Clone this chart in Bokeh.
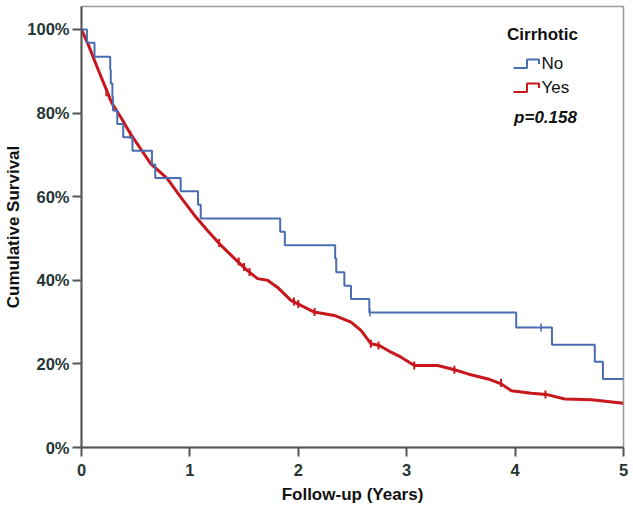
import numpy as np
from bokeh.plotting import figure
from bokeh.models import Range1d, FixedTicker, Label
from bokeh.embed import file_html
from bokeh.resources import INLINE

# ---- data ----
x_ticks = [0, 1, 2, 3, 4, 5]
x_tick_labels = ["0", "1", "2", "3", "4", "5"]
y_ticks = [0, 20, 40, 60, 80, 100]
y_tick_labels = ["0%", "20%", "40%", "60%", "80%", "100%"]

# Non-cirrhotic (No) Kaplan-Meier steps
no_time = [0, 0.05, 0.12, 0.265, 0.27, 0.285, 0.29, 0.33, 0.385, 0.47, 0.65, 0.68,
           0.915, 1.075, 1.10, 1.833, 1.876, 2.34, 2.35, 2.425, 2.486, 2.655,
           4.01, 4.34, 4.735, 4.81, 5.0]
no_surv = [100, 96.8, 93.5, 90.3, 87.1, 83.9, 80.6, 77.4, 74.2, 71.0, 67.7, 64.5,
           61.3, 58.1, 54.8, 51.6, 48.4, 45.2, 41.9, 38.7, 35.5, 32.3,
           28.7, 24.6, 20.5, 16.4, 16.4]
no_cens_time = [2.66, 4.24]
no_cens_surv = [32.3, 28.7]

# Cirrhotic (Yes) curve
yes_time = [0, 0.065, 0.157, 0.28, 0.372, 0.453, 0.638, 0.792, 0.915, 1.038, 1.162,
            1.285, 1.408, 1.531, 1.624, 1.716, 1.809, 1.932, 2.024, 2.147, 2.332,
            2.486, 2.578, 2.671, 2.748, 2.856, 2.948, 3.071, 3.287, 3.441, 3.565,
            3.75, 3.872, 3.965, 4.15, 4.288, 4.458, 4.704, 4.997]
yes_surv = [100, 96.2, 90.2, 82.4, 78.6, 75.0, 67.9, 64.3, 59.9, 55.7, 51.9,
            48.4, 45.3, 42.3, 40.4, 40.0, 38.3, 35.2, 34.0, 32.4, 31.6,
            30.0, 28.0, 24.8, 24.4, 22.8, 21.6, 19.6, 19.6, 18.6, 17.6,
            16.4, 15.2, 13.6, 13.0, 12.7, 11.6, 11.4, 10.6]
yes_cens_time = [0.23, 0.45, 1.27, 1.45, 1.50, 1.55, 1.96, 2.0, 2.15, 2.67, 2.74,
                 3.07, 3.44, 3.87, 4.28]
yes_cens_surv = [85.0, 74.8, 48.9, 44.5, 43.2, 42.0, 34.9, 34.3, 32.4, 24.8, 24.4,
                 19.6, 18.6, 15.5, 12.7]

legend_title = "Cirrhotic"
group_names = ["No", "Yes"]
p_value_text = "p=0.158"

BLUE = "#4a6cb3"
RED = "#c8161d"
TXT = "#263535"
FONT = "Liberation Sans"

p = figure(width=632, height=510, x_range=Range1d(0, 5), y_range=Range1d(0, 105.5),
           output_backend="svg", toolbar_location=None,
           min_border_left=81, min_border_right=9, min_border_top=6, min_border_bottom=63)
p.background_fill_color = "white"
p.border_fill_color = "white"
p.outline_line_color = "#9a9a9a"
p.outline_line_width = 1.5
p.xgrid.visible = False
p.ygrid.visible = False

for ax in (p.xaxis[0], p.yaxis[0]):
    ax.axis_line_color = "#555555"
    ax.axis_line_width = 2
    ax.major_tick_line_color = "#555555"
    ax.major_tick_line_width = 2
    ax.major_tick_in = 0
    ax.minor_tick_line_color = None
    ax.major_label_text_font = FONT
    ax.major_label_text_font_size = "16.5px"
    ax.major_label_text_font_style = "bold"
    ax.major_label_text_color = TXT
    ax.axis_label_text_font = FONT
    ax.axis_label_text_font_size = "17px"
    ax.axis_label_text_font_style = "bold"
    ax.axis_label_text_color = "#111111"

p.xaxis.ticker = FixedTicker(ticks=x_ticks)
p.xaxis.major_label_overrides = {t: l for t, l in zip(x_ticks, x_tick_labels)}
p.xaxis.major_tick_out = 9
p.xaxis.major_label_standoff = 7
p.xaxis.axis_label = "Follow-up (Years)"
p.xaxis.axis_label_standoff = 6

p.yaxis.ticker = FixedTicker(ticks=y_ticks)
p.yaxis.major_label_overrides = {t: l for t, l in zip(y_ticks, y_tick_labels)}
p.yaxis.major_tick_out = 9
p.yaxis.major_label_standoff = 3
p.yaxis.axis_label = "Cumulative Survival"
p.yaxis.axis_label_standoff = 1

# curves
p.line(yes_time, yes_surv, line_color=RED, line_width=3)
p.scatter(yes_cens_time, yes_cens_surv, marker="dash", angle=np.pi / 2, size=8,
          line_color=RED, line_width=2)
p.step(no_time, no_surv, mode="after", line_color=BLUE, line_width=2)
p.scatter(no_cens_time, no_cens_surv, marker="dash", angle=np.pi / 2, size=8,
          line_color=BLUE, line_width=1.5)

# legend (pixel layout converted to data units)
def dx(px):
    return (px - 81) / 108.4

def dy(py):
    return (447 - py) / 4.18

p.add_layout(Label(x=dx(542), y=dy(34.5), text=legend_title, text_align="center",
                   text_baseline="middle", text_font=FONT, text_font_size="17px",
                   text_font_style="bold", text_color="#111111"))
for name, color, cy in zip(group_names, [BLUE, RED], [63.5, 87.5]):
    lo, hi = cy + 4.0, cy - 4.5
    p.line([dx(513), dx(526.5), dx(526.5), dx(538.5), dx(538.5)],
           [dy(lo), dy(lo), dy(hi), dy(hi), dy(cy)], line_color=color, line_width=2)
    p.add_layout(Label(x=dx(541), y=dy(cy), text=name, text_align="left",
                       text_baseline="middle", text_font=FONT, text_font_size="17px",
                       text_color="#111111"))
p.add_layout(Label(x=dx(545), y=dy(117.5), text=p_value_text, text_align="center",
                   text_baseline="middle", text_font=FONT, text_font_size="17px",
                   text_font_style="bold italic", text_color="#111111"))

open("out.html", "w").write(file_html(p, INLINE))
